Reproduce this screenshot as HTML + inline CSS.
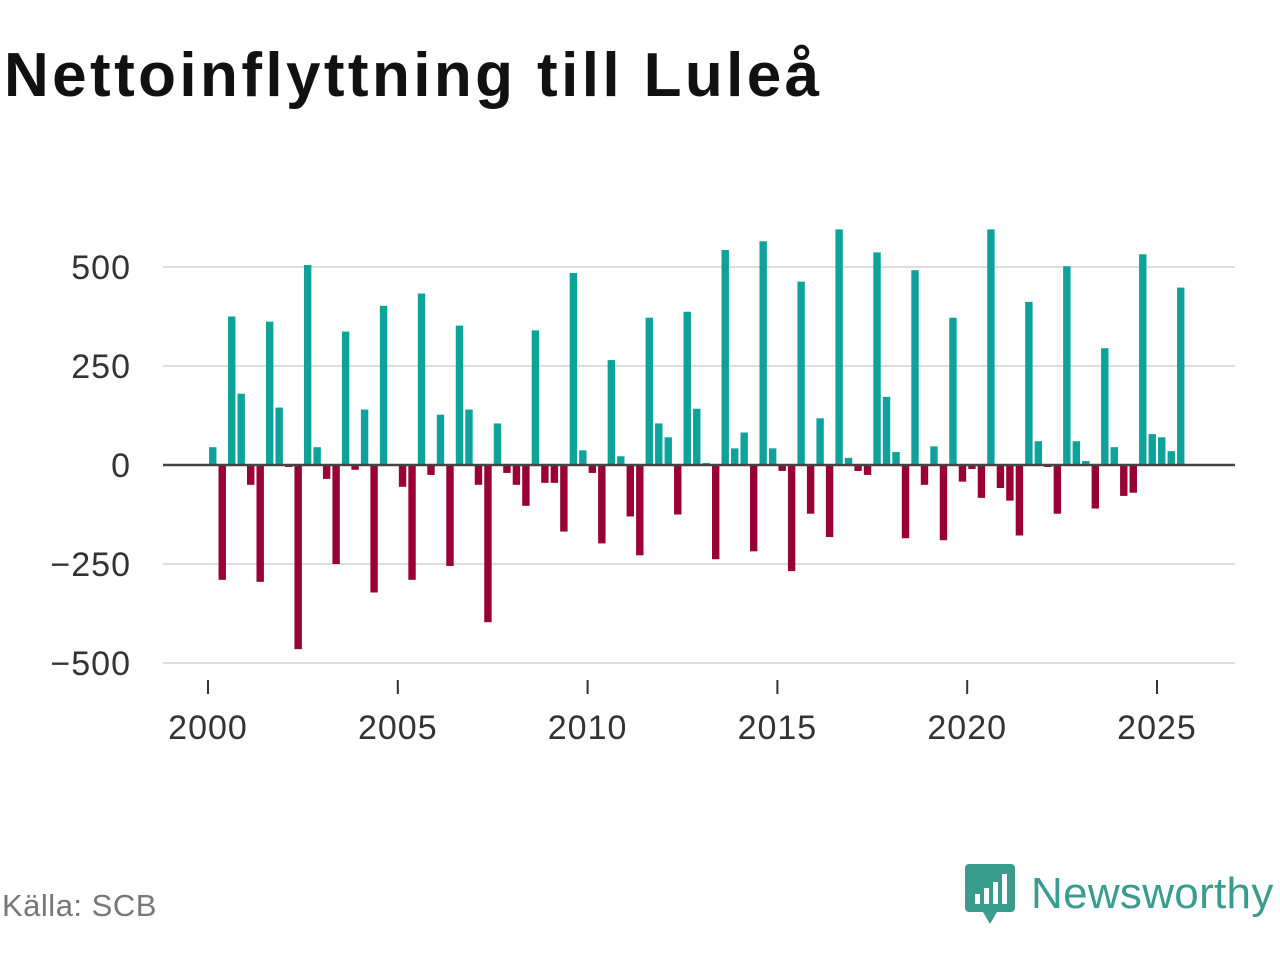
<!DOCTYPE html>
<html><head><meta charset="utf-8">
<style>
body{margin:0;width:1280px;height:960px;background:#fff;font-family:"Liberation Sans","DejaVu Sans",sans-serif;overflow:hidden;position:relative}
#title{position:absolute;left:4px;top:40px;font-size:62px;font-weight:bold;color:#111;margin:0;letter-spacing:3.4px;white-space:nowrap}
#source{position:absolute;left:2px;top:888px;font-size:31px;color:#777;letter-spacing:0.5px}
#logo{position:absolute;left:965px;top:864px;display:flex;align-items:center}
#logo span{font-size:44px;color:#3a9c8e;margin-left:16px;letter-spacing:0.3px}
svg{position:absolute;left:0;top:0}
</style></head><body>
<h1 id="title">Nettoinflyttning till Luleå</h1>
<svg id="chart" width="1280" height="960"></svg>
<div id="source">Källa: SCB</div>
<div id="logo">
<svg style="position:static" width="50" height="60" viewBox="0 0 50 60"><path d="M4 0h42a4 4 0 0 1 4 4v40a4 4 0 0 1-4 4H32L25 60 18 48H4a4 4 0 0 1-4-4V4a4 4 0 0 1 4-4z" fill="#3a9c8e"/><rect x="10" y="30" width="5" height="10" fill="#fff"/><rect x="19" y="24" width="5" height="16" fill="#fff"/><rect x="28" y="18" width="5" height="22" fill="#fff"/><rect x="37" y="10" width="5" height="30" fill="#fff"/></svg>
<span>Newsworthy</span></div>
<script>
const years=[2000,2000,2000,2000,2001,2001,2001,2001,2002,2002,2002,2002,2003,2003,2003,2003,2004,2004,2004,2004,2005,2005,2005,2005,2006,2006,2006,2006,2007,2007,2007,2007,2008,2008,2008,2008,2009,2009,2009,2009,2010,2010,2010,2010,2011,2011,2011,2011,2012,2012,2012,2012,2013,2013,2013,2013,2014,2014,2014,2014,2015,2015,2015,2015,2016,2016,2016,2016,2017,2017,2017,2017,2018,2018,2018,2018,2019,2019,2019,2019,2020,2020,2020,2020,2021,2021,2021,2021,2022,2022,2022,2022,2023,2023,2023,2023,2024,2024,2024,2024,2025,2025,2025];
const quarters=[1,2,3,4,1,2,3,4,1,2,3,4,1,2,3,4,1,2,3,4,1,2,3,4,1,2,3,4,1,2,3,4,1,2,3,4,1,2,3,4,1,2,3,4,1,2,3,4,1,2,3,4,1,2,3,4,1,2,3,4,1,2,3,4,1,2,3,4,1,2,3,4,1,2,3,4,1,2,3,4,1,2,3,4,1,2,3,4,1,2,3,4,1,2,3,4,1,2,3,4,1,2,3];
const values=[45,-290,375,180, -50,-295,362,145, -5,-465,505,45, -35,-250,337,-12, 140,-322,402,0, -55,-290,433,-25, 127,-255,352,140, -50,-397,105,-20, -50,-103,340,-45, -45,-168,485,37, -20,-198,265,22, -130,-228,372,105, 70,-125,387,142, 5,-238,543,42, 82,-218,565,42, -15,-268,463,-123, 118,-182,595,18, -15,-25,537,172, 33,-185,492,-50, 47,-190,372,-42, -10,-83,595,-58, -90,-178,412,60, -5,-123,502,60, 10,-110,295,45, -78,-70,532,78, 70,35,448];
const yTicks=[500,250,0,-250,-500];
const yTickLabels=["500","250","0","\u2212250","\u2212500"];
const xTicks=[2000,2005,2010,2015,2020,2025];

const svg=document.getElementById('chart');const NS='http://www.w3.org/2000/svg';
const y=v=>465-v*0.396;
const x=t=>208+(t-2000)*37.96;
function mk(tag,attrs){const e=document.createElementNS(NS,tag);for(const k in attrs)e.setAttribute(k,attrs[k]);svg.appendChild(e);return e;}
yTicks.forEach((t,i)=>{
 if(t!==0){const l=mk('line',{x1:163,x2:1235,y1:y(t),y2:y(t),stroke:'#ddd','stroke-width':2});
 
 }
 const tx=mk('text',{x:131,y:y(t)+12,'text-anchor':'end','font-size':34,'letter-spacing':1,fill:'#333','font-family':'Liberation Sans, sans-serif'});
 tx.textContent=yTickLabels[i];
 
 
});
for(let i=0;i<values.length;i++){
 const cx=x(years[i]+(quarters[i]-0.5)/4);const v=values[i];
 const r=mk('rect',{x:cx-3.7,width:7.4,y:Math.min(y(v),y(0)),height:Math.abs(y(v)-y(0)),fill:v>=0?'#0ea39a':'#990033'});
 
 
}
const z=mk('line',{x1:163,x2:1235,y1:y(0),y2:y(0),stroke:'#444','stroke-width':2.5});


xTicks.forEach(t=>{
 const tk=mk('line',{x1:x(t),x2:x(t),y1:680,y2:694,stroke:'#333','stroke-width':2});
 
 
 const tx=mk('text',{x:x(t),y:739,'text-anchor':'middle','font-size':34,'letter-spacing':1,fill:'#333','font-family':'Liberation Sans, sans-serif'});
 tx.textContent=t;
 
 
});
</script>
</body></html>
